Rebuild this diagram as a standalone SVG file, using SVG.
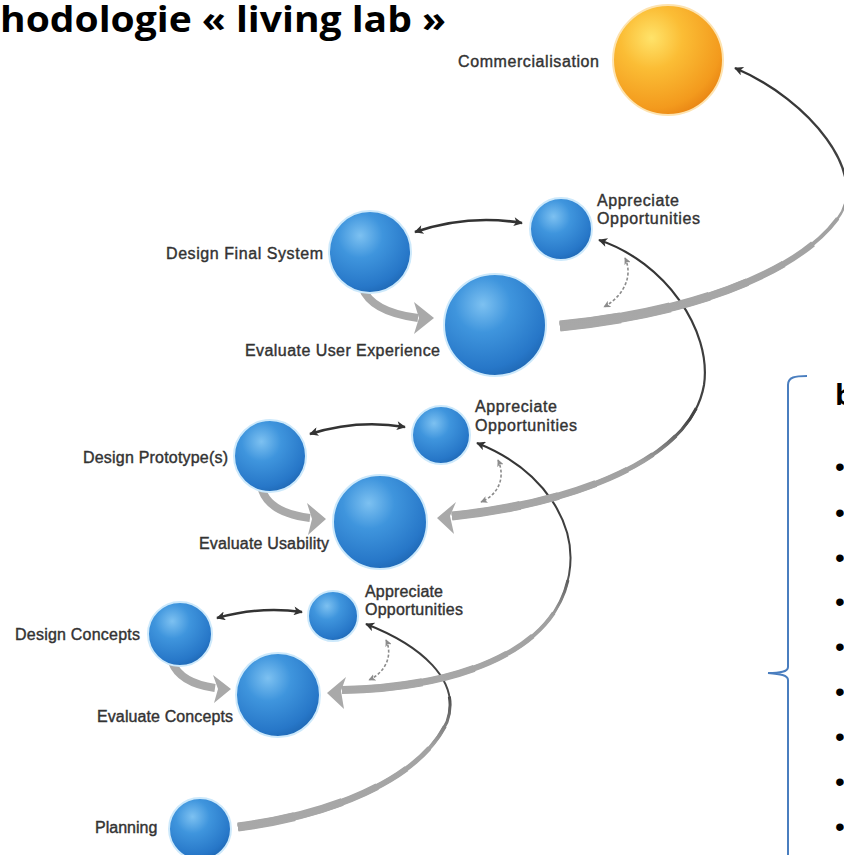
<svg xmlns="http://www.w3.org/2000/svg" xmlns:xlink="http://www.w3.org/1999/xlink" width="844" height="855" viewBox="0 0 844 855">
<style>
.lbl{font-family:"Liberation Sans",Arial,sans-serif;font-size:16px;fill:#333;stroke:#333;stroke-width:0.4px}
.ttl{font-family:"Open Sans","Liberation Sans",sans-serif;font-weight:700;fill:#000}
.bul{font-family:"Liberation Sans",Arial,sans-serif;font-size:28px;fill:#000}
.blue{fill:url(#gBlue);stroke:#cde9fb;stroke-width:2}
.orange{fill:url(#gOrange);stroke:#fde3b0;stroke-width:2}
.dbl{fill:none;stroke:#333;stroke-width:2.6;marker-start:url(#ah);marker-end:url(#ah)}
.dash{fill:none;stroke:#8c8c8c;stroke-width:1.6;stroke-dasharray:3 2;marker-start:url(#ahg);marker-end:url(#ahg)}
.shaft{fill:none;stroke:#a9a9a9;stroke-width:8}
.head{fill:#a9a9a9}
</style>
<defs>
<radialGradient id="gBlue" cx="0.38" cy="0.3" r="0.78">
<stop offset="0" stop-color="#7dc1f1"/>
<stop offset="0.35" stop-color="#3f95dd"/>
<stop offset="0.8" stop-color="#2777c8"/>
<stop offset="1" stop-color="#1c63ae"/>
</radialGradient>
<radialGradient id="gOrange" cx="0.35" cy="0.3" r="0.8">
<stop offset="0" stop-color="#ffe36a"/>
<stop offset="0.35" stop-color="#fbbd35"/>
<stop offset="0.8" stop-color="#f39a1d"/>
<stop offset="1" stop-color="#e57d10"/>
</radialGradient>
<linearGradient id="gA" gradientUnits="userSpaceOnUse" x1="0" y1="827" x2="0" y2="624">
<stop offset="0" stop-color="#a8a8a8"/><stop offset="0.4" stop-color="#a2a2a2"/><stop offset="0.65" stop-color="#4a4a4a"/><stop offset="1" stop-color="#333"/>
</linearGradient>
<linearGradient id="gB" gradientUnits="userSpaceOnUse" x1="0" y1="691" x2="0" y2="442">
<stop offset="0" stop-color="#a8a8a8"/><stop offset="0.3" stop-color="#a0a0a0"/><stop offset="0.5" stop-color="#444"/><stop offset="1" stop-color="#333"/>
</linearGradient>
<linearGradient id="gC" gradientUnits="userSpaceOnUse" x1="0" y1="517" x2="0" y2="239">
<stop offset="0" stop-color="#a8a8a8"/><stop offset="0.2" stop-color="#a0a0a0"/><stop offset="0.35" stop-color="#444"/><stop offset="1" stop-color="#333"/>
</linearGradient>
<linearGradient id="gD" gradientUnits="userSpaceOnUse" x1="0" y1="326" x2="0" y2="68">
<stop offset="0" stop-color="#a8a8a8"/><stop offset="0.45" stop-color="#a0a0a0"/><stop offset="0.55" stop-color="#444"/><stop offset="1" stop-color="#333"/>
</linearGradient>
<marker id="ah" viewBox="0 0 10 10" refX="9" refY="5" markerWidth="10" markerHeight="9" markerUnits="userSpaceOnUse" orient="auto-start-reverse">
<path d="M0,0 L10,5 L0,10 L2.5,5 Z" fill="#333"/>
</marker>
<marker id="ahg" viewBox="0 0 10 10" refX="9" refY="5" markerWidth="7" markerHeight="7" markerUnits="userSpaceOnUse" orient="auto-start-reverse">
<path d="M0,0 L10,5 L0,10 L2.5,5 Z" fill="#8c8c8c"/>
</marker>
<path id="pA" pathLength="100" d="M238,827 C330,815 420,780 447,722 C462,680 420,645 366,624"/>
<path id="pB" pathLength="100" d="M342,690 C450,688 555,655 569,575 C578,525 545,470 477,443"/>
<path id="pC" pathLength="100" d="M452,516 C560,505 690,465 704,385 C712,330 665,262 599,240"/>
<path id="pD" pathLength="100" d="M560,326 C700,312 800,270 838,218 C870,175 810,100 735,68"/>
</defs>

<rect width="844" height="855" fill="#fff"/>

<g id="connectors">
<g fill="none" stroke="url(#gA)">
<use href="#pA" stroke-width="9" stroke-dasharray="15 200"/>
<use href="#pA" stroke-width="8" stroke-dasharray="28 200"/>
<use href="#pA" stroke-width="7" stroke-dasharray="38 200"/>
<use href="#pA" stroke-width="6" stroke-dasharray="47 200"/>
<use href="#pA" stroke-width="5" stroke-dasharray="55 200"/>
<use href="#pA" stroke-width="4" stroke-dasharray="62 200"/>
<use href="#pA" stroke-width="3" stroke-dasharray="70 200"/>
<path d="M238,827 C330,815 420,780 447,722 C462,680 420,645 366,624" stroke-width="2" marker-end="url(#ah)"/>
</g>
<g fill="none" stroke="url(#gB)">
<use href="#pB" stroke-width="8" stroke-dasharray="18 200"/>
<use href="#pB" stroke-width="7" stroke-dasharray="30 200"/>
<use href="#pB" stroke-width="6" stroke-dasharray="38 200"/>
<use href="#pB" stroke-width="5" stroke-dasharray="45 200"/>
<use href="#pB" stroke-width="4" stroke-dasharray="52 200"/>
<use href="#pB" stroke-width="3" stroke-dasharray="60 200"/>
<path d="M342,690 C450,688 555,655 569,575 C578,525 545,470 477,443" stroke-width="2" marker-end="url(#ah)"/>
</g>
<g fill="none" stroke="url(#gC)">
<use href="#pC" stroke-width="9" stroke-dasharray="14 200"/>
<use href="#pC" stroke-width="8" stroke-dasharray="22 200"/>
<use href="#pC" stroke-width="7" stroke-dasharray="30 200"/>
<use href="#pC" stroke-width="6" stroke-dasharray="37 200"/>
<use href="#pC" stroke-width="5" stroke-dasharray="43 200"/>
<use href="#pC" stroke-width="4" stroke-dasharray="49 200"/>
<use href="#pC" stroke-width="3" stroke-dasharray="56 200"/>
<path d="M452,516 C560,505 690,465 704,385 C712,330 665,262 599,240" stroke-width="2.2" marker-end="url(#ah)"/>
</g>
<g fill="none" stroke="url(#gD)">
<use href="#pD" stroke-width="11" stroke-dasharray="12 200"/>
<use href="#pD" stroke-width="10" stroke-dasharray="22 200"/>
<use href="#pD" stroke-width="9" stroke-dasharray="30 200"/>
<use href="#pD" stroke-width="8" stroke-dasharray="38 200"/>
<use href="#pD" stroke-width="7" stroke-dasharray="46 200"/>
<use href="#pD" stroke-width="6" stroke-dasharray="53 200"/>
<use href="#pD" stroke-width="4" stroke-dasharray="60 200"/>
<path d="M560,326 C700,312 800,270 838,218 C870,175 810,100 735,68" stroke-width="2.4" marker-end="url(#ah)"/>
</g>
<polygon class="head" points="327,693 346,677 341,691 344,709"/>
<polygon class="head" points="437,518 456,502 450,516 454,534"/>

<path class="shaft" d="M362,287 Q371,312 418,318"/>
<polygon class="head" points="434,318 414,302 419,318 414,334"/>
<path class="shaft" d="M262,490 Q270,513 310,518"/>
<polygon class="head" points="326,519 307,503 312,519 308,535"/>
<path class="shaft" d="M172,662 Q180,683 215,688"/>
<polygon class="head" points="231,689 213,675 218,689 214,703"/>

<path class="dbl" d="M415,232 Q468,214 522,223"/>
<path class="dbl" d="M310,434 Q357,419 405,427"/>
<path class="dbl" d="M217,618 Q260,606 302,612"/>

<path class="dash" d="M625,258 C633,275 625,295 604,307"/>
<path class="dash" d="M498,460 C506,478 498,495 481,502"/>
<path class="dash" d="M386,640 C393,655 386,672 369,680"/>
</g>

<g id="commercialisation">
<circle class="orange" cx="668" cy="60" r="55"/>
<text class="lbl" x="458" y="67" textLength="141">Commercialisation</text>
</g>
<g id="appreciate-3">
<circle class="blue" cx="561" cy="229" r="31"/>
<text class="lbl" x="597" y="206" textLength="82">Appreciate</text>
<text class="lbl" x="597" y="224" textLength="103">Opportunities</text>
</g>
<g id="design-final-system">
<circle class="blue" cx="370" cy="252" r="41"/>
<text class="lbl" x="166" y="259" textLength="157">Design Final System</text>
</g>
<g id="evaluate-user-experience">
<circle class="blue" cx="495" cy="325" r="51"/>
<text class="lbl" x="245" y="356" textLength="195">Evaluate User Experience</text>
</g>
<g id="appreciate-2">
<circle class="blue" cx="441" cy="435" r="29"/>
<text class="lbl" x="475" y="412" textLength="82">Appreciate</text>
<text class="lbl" x="475" y="431" textLength="102">Opportunities</text>
</g>
<g id="design-prototypes">
<circle class="blue" cx="270" cy="456" r="36"/>
<text class="lbl" x="83" y="463" textLength="145">Design Prototype(s)</text>
</g>
<g id="evaluate-usability">
<circle class="blue" cx="380" cy="522" r="47"/>
<text class="lbl" x="199" y="549" textLength="130">Evaluate Usability</text>
</g>
<g id="appreciate-1">
<circle class="blue" cx="333" cy="616" r="25"/>
<text class="lbl" x="365" y="597" textLength="78">Appreciate</text>
<text class="lbl" x="365" y="615" textLength="98">Opportunities</text>
</g>
<g id="design-concepts">
<circle class="blue" cx="180" cy="634" r="32"/>
<text class="lbl" x="15" y="640" textLength="125">Design Concepts</text>
</g>
<g id="evaluate-concepts">
<circle class="blue" cx="278" cy="695" r="42"/>
<text class="lbl" x="97" y="722" textLength="136">Evaluate Concepts</text>
</g>
<g id="planning">
<circle class="blue" cx="200" cy="829" r="31"/>
<text class="lbl" x="95" y="833">Planning</text>
</g>

<g id="title">
<text class="ttl" x="0" y="32" font-size="36" textLength="446" lengthAdjust="spacingAndGlyphs">hodologie « living lab »</text>
</g>

<g id="side-list">
<text class="ttl" x="835" y="405" font-size="29">b</text>
<path d="M807,376 C795,376 788,377 788,385 L788,667 C788,672 780,673 768,673 C780,674 788,675 788,680 L788,855" fill="none" stroke="#4a7ebf" stroke-width="2"/>
<text class="bul" x="835" y="476">•</text>
<text class="bul" x="835" y="522">•</text>
<text class="bul" x="835" y="567">•</text>
<text class="bul" x="835" y="611">•</text>
<text class="bul" x="835" y="656">•</text>
<text class="bul" x="835" y="701">•</text>
<text class="bul" x="835" y="746">•</text>
<text class="bul" x="835" y="791">•</text>
<text class="bul" x="835" y="836">•</text>
</g>
</svg>
